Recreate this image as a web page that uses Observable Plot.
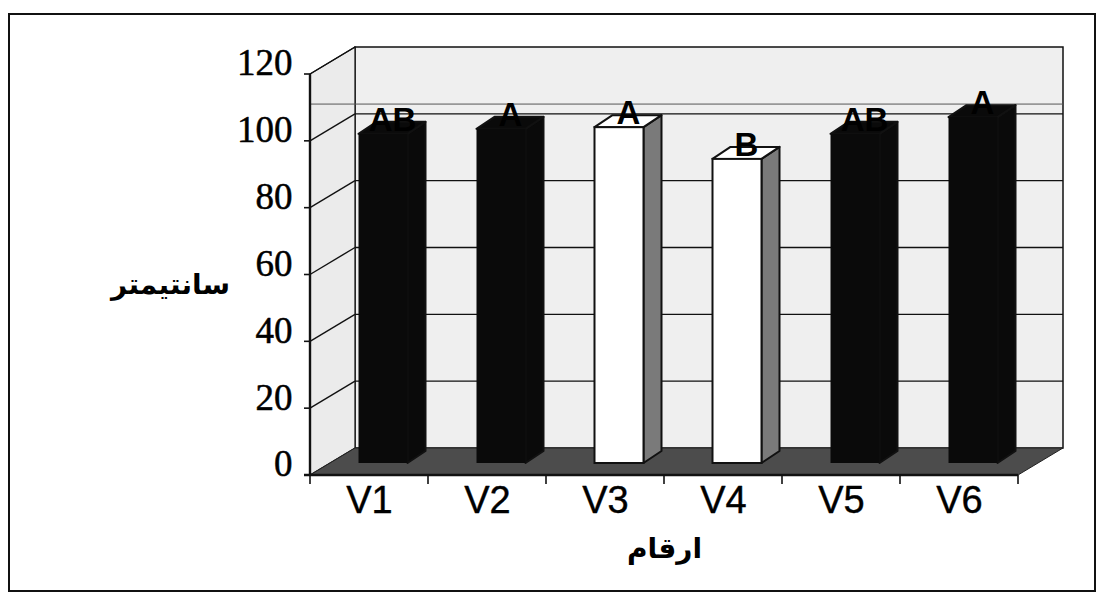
<!DOCTYPE html>
<html><head><meta charset="utf-8">
<script src="https://cdn.jsdelivr.net/npm/d3@7"></script>
<script src="https://cdn.jsdelivr.net/npm/@observablehq/plot@0.6"></script>
<style>
html,body{margin:0;padding:0;background:#fff;}
#wrap{position:relative;width:1110px;height:614px;overflow:hidden;}
#border{position:absolute;left:8px;top:13px;width:1088px;height:579px;border:2px solid #111;box-sizing:border-box;}
#chart{position:absolute;left:0;top:0;}
</style></head><body>
<div id="wrap"><div id="border"></div><div id="chart"></div></div>
<script>
// ---- data ----
const categories = ["V1", "V2", "V3", "V4", "V5", "V6"];
const values = [98.5, 100, 100.5, 91, 98.5, 103.5];
const letters = ["AB", "A", "A", "B", "AB", "A"];
const barTone = ["black", "black", "white", "white", "black", "black"];
const yTicks = [0, 20, 40, 60, 80, 100, 120];
const yTitle = "سانتيمتر";
const xTitle = "ارقام";
const topRule = [111];

const data = categories.map((c, i) => ({category: c, value: values[i], letter: letters[i], tone: barTone[i]}));

// ---- 3D styling ----
const WALL = {dx: 45, dy: -27};   // depth of the walls / floor
const FACE = {dx: 14, dy: -12};   // offset of bar front face
const BAR = {dx: 18, dy: -12};    // bar depth
const BAR_W = 49;

function walls(index, scales, vals, dims) {
  const X = scales.x, Y = scales.y;
  const x0 = dims.marginLeft, x1 = dims.width - dims.marginRight;
  const y0 = Y(0), yT = Y(120);
  const g = d3.create("svg:g");
  const poly = (pts, fill, stroke, sw) => g.append("polygon")
    .attr("points", pts.map(p => p.join(",")).join(" "))
    .attr("fill", fill).attr("stroke", stroke || "none").attr("stroke-width", sw || 1)
    .attr("stroke-linejoin", "miter");
  const line = (a, b, stroke, sw) => g.append("line")
    .attr("x1", a[0]).attr("y1", a[1]).attr("x2", b[0]).attr("y2", b[1])
    .attr("stroke", stroke).attr("stroke-width", sw);
  const W = WALL;
  // back wall
  poly([[x0 + W.dx, yT + W.dy], [x1 + W.dx, yT + W.dy], [x1 + W.dx, y0 + W.dy], [x0 + W.dx, y0 + W.dy]], "#efefef", "#111", 1.5);
  // side wall
  poly([[x0, y0], [x0, yT], [x0 + W.dx, yT + W.dy], [x0 + W.dx, y0 + W.dy]], "#ebebeb", "#111", 1.2);
  // floor
  poly([[x0, y0], [x1, y0], [x1 + W.dx, y0 + W.dy], [x0 + W.dx, y0 + W.dy]], "#4c4c4c", "#222", 1);
  // gridlines
  yTicks.forEach(t => {
    if (t > 0) line([x0, Y(t)], [x0 + W.dx, Y(t) + W.dy], "#111", 1.4);
    if (t > 0 && t < 120) line([x0 + W.dx, Y(t) + W.dy], [x1 + W.dx, Y(t) + W.dy], "#111", 1.4);
    line([x0 - 6, Y(t)], [x0, Y(t)], "#111", 1.6);
  });
  topRule.forEach(t => line([x0, Y(t)], [x1 + W.dx, Y(t)], "#555", 1));
  // axes
  line([x0, y0 + 1], [x0, yT], "#111", 2.4);
  line([x0 - 6, y0], [x1, y0], "#111", 2.4);
  categories.forEach(c => line([X(c), y0], [X(c), y0 + 9], "#111", 1.6));
  line([x1, y0], [x1, y0 + 9], "#111", 1.6);
  return g.node();
}

function barSides(index, scales, vals, dims) {
  const X = scales.x, Y = scales.y;
  const bw = typeof X.bandwidth === "function" ? X.bandwidth() : X.bandwidth;
  const g = d3.create("svg:g");
  const poly = (pts, fill, stroke, sw) => g.append("polygon")
    .attr("points", pts.map(p => p.join(",")).join(" "))
    .attr("fill", fill).attr("stroke", stroke || "none").attr("stroke-width", sw || 1)
    .attr("stroke-linejoin", "round");
  data.forEach(d => {
    const cx = X(d.category) + bw / 2 + FACE.dx;
    const xl = cx - BAR_W / 2, xr = cx + BAR_W / 2;
    const yb = Y(0) + FACE.dy, yt = Y(d.value) + FACE.dy;
    const dark = d.tone === "black";
    poly([[xr, yb], [xr, yt], [xr + BAR.dx, yt + BAR.dy], [xr + BAR.dx, yb + BAR.dy]],
      dark ? "#0a0a0a" : "#7a7a7a", "#111", 2);
    poly([[xl, yt], [xr, yt], [xr + BAR.dx, yt + BAR.dy], [xl + BAR.dx, yt + BAR.dy]],
      dark ? "#0a0a0a" : "#ffffff", "#111", 2);
  });
  return g.node();
}

const bandW = 118;
const inset = (bandW - BAR_W) / 2;

const chart = Plot.plot({
  width: 1110,
  height: 614,
  marginLeft: 310,
  marginRight: 92,
  marginTop: 74,
  marginBottom: 139,
  x: {domain: categories, padding: 0, axis: null},
  y: {domain: [0, 120], axis: null},
  style: {background: "transparent", overflow: "visible"},
  marks: [
    walls,
    barSides,
    Plot.barY(data.filter(d => d.tone === "black"), {x: "category", y: "value", fill: "#0a0a0a", insetLeft: inset, insetRight: inset, dx: FACE.dx, dy: FACE.dy}),
    Plot.barY(data.filter(d => d.tone === "white"), {x: "category", y: "value", fill: "white", stroke: "#111", strokeWidth: 2, insetLeft: inset, insetRight: inset, dx: FACE.dx, dy: FACE.dy}),
    Plot.text(data, {x: "category", y: "value", text: "letter", dx: FACE.dx + BAR.dx / 2, dy: -26, fontSize: 33, fontWeight: "bold", fontFamily: "Liberation Sans, Arial, sans-serif", fill: "#000"}),
    Plot.text(yTicks, {y: d => d, text: d => String(d), frameAnchor: "left", textAnchor: "end", dx: -18, dy: -11, fontSize: 37, fontFamily: "Liberation Serif, Times New Roman, serif", fill: "#000", stroke: "#000", strokeWidth: 0.5}),
    Plot.text(data, {x: "category", text: "category", frameAnchor: "bottom", textAnchor: "middle", dy: 37, fontSize: 38, fontFamily: "Liberation Sans, Arial, sans-serif", fill: "#000", stroke: "#000", strokeWidth: 0.4}),
    Plot.text([yTitle], {text: d => d, frameAnchor: "left", textAnchor: "middle", dx: -140, dy: 10, fontSize: 28, fontWeight: "bold", fontFamily: "DejaVu Sans, sans-serif", fill: "#000"}),
    Plot.text([xTitle], {text: d => d, frameAnchor: "bottom", textAnchor: "middle", dy: 82, fontSize: 28, fontWeight: "bold", fontFamily: "DejaVu Sans, sans-serif", fill: "#000"})
  ]
});
document.getElementById("chart").appendChild(chart);
</script>
</body></html>
